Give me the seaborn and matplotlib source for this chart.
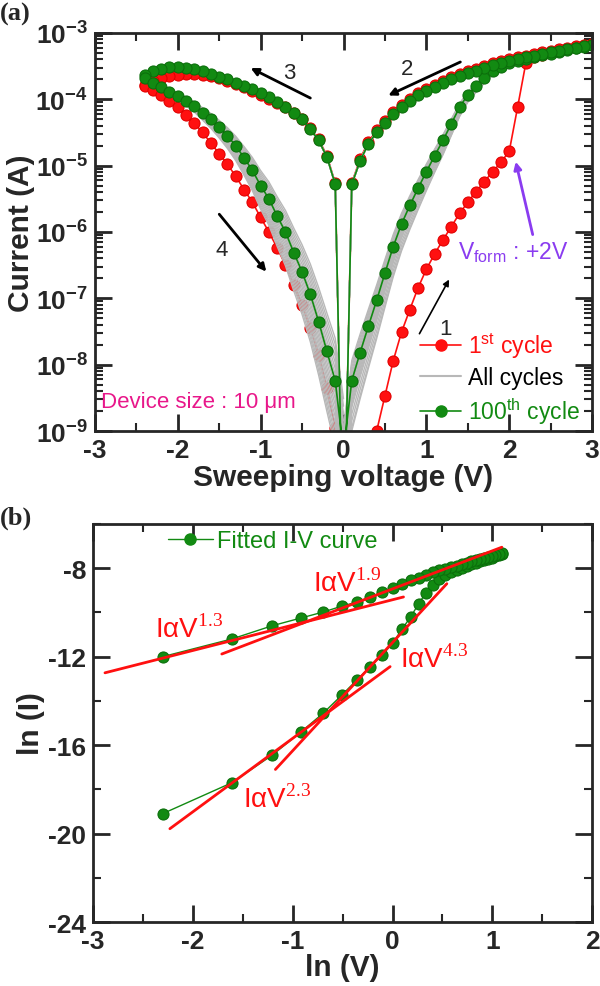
import numpy as np
import pandas as pd
import matplotlib
matplotlib.use("Agg")
import matplotlib.pyplot as plt
import seaborn as sns
from matplotlib.lines import Line2D
from matplotlib.ticker import LogLocator, MultipleLocator, NullFormatter

sns.set_style("ticks")
plt.rcParams['font.family'] = ['Liberation Sans', 'DejaVu Sans']
plt.rcParams['mathtext.fontset'] = 'custom'
plt.rcParams['mathtext.rm'] = 'Liberation Serif'
plt.rcParams['mathtext.sf'] = 'Liberation Sans'
plt.rcParams['mathtext.bf'] = 'Liberation Sans:bold'

# ---------------- (a) data: log10(I) ----------------
v_pos = [0.0, 0.1, 0.2, 0.3, 0.4, 0.5, 0.6, 0.7, 0.8, 0.9, 1.0, 1.1, 1.2, 1.3, 1.4, 1.5,
         1.6, 1.7, 1.8, 1.9, 2.0, 2.1, 2.2, 2.3, 2.4, 2.5, 2.6, 2.7, 2.8, 2.9, 3.0]
v_neg = [0.0, -0.1, -0.2, -0.3, -0.4, -0.5, -0.6, -0.7, -0.8, -0.9, -1.0, -1.1, -1.2,
         -1.3, -1.4, -1.5, -1.6, -1.7, -1.8, -1.9, -2.0, -2.1, -2.2, -2.3, -2.4]
v_form = [0.3, 0.4, 0.5, 0.6, 0.7, 0.8, 0.9, 1.0, 1.1, 1.2, 1.3, 1.4, 1.5, 1.6,
          1.7, 1.8, 1.9, 2.0, 2.1, 2.2, 2.3, 2.4, 2.5, 2.6, 2.7, 2.8, 2.9, 3.0]

# 100th cycle
g_set = [-9.3, -8.24, -7.82, -7.42, -7.03, -6.62, -6.22, -5.88, -5.60, -5.34, -5.09,
         -4.85, -4.62, -4.37, -4.12, -3.93, -3.80, -3.68, -3.58, -3.51, -3.46, -3.42,
         -3.39, -3.36, -3.33, -3.31, -3.28, -3.26, -3.23, -3.21, -3.18]
g_lrs_pos = [-11.0, -5.28, -4.93, -4.67, -4.50, -4.35, -4.22, -4.11, -4.02, -3.94, -3.87,
             -3.81, -3.75, -3.70, -3.65, -3.61, -3.57, -3.53, -3.49, -3.46, -3.43, -3.40,
             -3.37, -3.34, -3.32, -3.29, -3.27, -3.24, -3.22, -3.20, -3.18]
g_lrs_neg = [-11.0, -5.28, -4.87, -4.62, -4.45, -4.30, -4.20, -4.11, -4.04, -3.97, -3.91,
             -3.85, -3.80, -3.75, -3.70, -3.66, -3.62, -3.58, -3.55, -3.53, -3.52, -3.52,
             -3.54, -3.58, -3.64]
g_hrs_neg = [-9.3, -8.24, -7.80, -7.35, -6.94, -6.60, -6.31, -6.00, -5.76, -5.50, -5.30,
             -5.07, -4.88, -4.70, -4.55, -4.42, -4.30, -4.20, -4.10, -4.02, -3.95, -3.89,
             -3.82, -3.76, -3.68]

# 1st cycle
r_form = [-9.5, -9.0, -8.47, -7.94, -7.51, -7.17, -6.84, -6.56, -6.33, -6.12, -5.92,
          -5.72, -5.55, -5.39, -5.24, -5.09, -4.95, -4.78, -4.12, -3.45, -3.36, -3.33,
          -3.30, -3.27, -3.24, -3.21, -3.19, -3.16]
r_lrs_pos = [-11.0, -5.26, -4.90, -4.64, -4.47, -4.32, -4.19, -4.08, -3.99, -3.91, -3.84,
             -3.78, -3.72, -3.67, -3.62, -3.58, -3.54, -3.50, -3.46, -3.43, -3.40, -3.37,
             -3.34, -3.32, -3.29, -3.27, -3.24, -3.22, -3.20, -3.18, -3.16]
r_lrs_neg = [-11.0, -5.26, -4.85, -4.60, -4.44, -4.30, -4.20, -4.12, -4.05, -3.99, -3.93,
             -3.87, -3.82, -3.77, -3.72, -3.68, -3.65, -3.63, -3.62, -3.62, -3.63, -3.65,
             -3.68, -3.72, -3.78]
r_hrs_neg = [-11.0, -8.95, -8.35, -7.85, -7.45, -7.10, -6.80, -6.50, -6.24, -6.00, -5.78,
             -5.55, -5.36, -5.16, -4.98, -4.82, -4.66, -4.50, -4.36, -4.24, -4.12, -4.02,
             -3.93, -3.86, -3.80]

# spread of the other cycles around the 100th one (HRS branches)
gray_k_left = [0.86, 0.88, 0.90, 0.92, 0.94, 0.96, 0.98, 1.00, 1.02, 1.04, 1.06, 1.08,
               1.10, 1.12, 1.14, 1.16, 1.18, 1.20, 1.22]
gray_k_right = [0.94, 0.95, 0.96, 0.97, 0.98, 0.99, 1.00, 1.01, 1.02, 1.03, 1.04, 1.05,
                1.06, 1.07, 1.08, 1.10, 1.12, 1.14, 1.15]

# ---------------- (b) data: ln(I) vs V ----------------
v_fit = [0.1, 0.2, 0.3, 0.4, 0.5, 0.6, 0.7, 0.8, 0.9, 1.0, 1.1, 1.2, 1.3, 1.4, 1.5,
         1.6, 1.7, 1.8, 1.9, 2.0, 2.1, 2.2, 2.3, 2.4, 2.5, 2.6, 2.7, 2.8, 2.9, 3.0]
lnI_hrs = [-19.1, -17.7, -16.45, -15.4, -14.55, -13.75, -13.05, -12.45, -11.93, -11.4,
           -10.75, -10.2, -9.6, -9.1, -8.75, -8.5, -8.32, -8.18, -8.06, -7.97, -7.89,
           -7.82, -7.75, -7.69, -7.63, -7.57, -7.52, -7.47, -7.42, -7.37]
lnI_lrs = [-12.0, -11.2, -10.6, -10.25, -9.98, -9.72, -9.53, -9.31, -9.08, -8.88, -8.70,
           -8.55, -8.42, -8.30, -8.19, -8.10, -8.02, -7.95, -7.88, -7.81, -7.75, -7.69,
           -7.63, -7.58, -7.53, -7.48, -7.44, -7.40, -7.36, -7.33]

fit_names = ["1.3", "1.9", "2.3", "4.3"]
fit_lnV = [(-2.88, 0.11), (-1.71, 1.095), (-2.23, -0.024), (-1.173, 0.544)]
fit_lnI = [(-12.73, -9.30), (-11.88, -7.05), (-19.78, -12.45), (-17.1, -8.70)]
fit_label_pos = [(-2.38, -11.1), (-0.80, -9.0), (-1.50, -18.8), (0.07, -12.45)]


def full_loop(up_v, up, lrs_p, lrs_n, hrs_n):
    v = list(up_v) + v_pos[::-1] + v_neg + v_neg[::-1]
    y = list(up) + list(lrs_p)[::-1] + list(lrs_n) + list(hrs_n)[::-1]
    return np.array(v), np.array(y)


fig = plt.figure(figsize=(6, 9.87), dpi=100)
ax = fig.add_axes([0.158, 0.5623, 0.829, 0.4033])
ax2 = fig.add_axes([0.155, 0.0648, 0.832, 0.4033])

RED = '#ff1010'
GREEN = '#128a12'
GRAY = '#b8b8b8'

# 1st cycle
rv, ry = full_loop(v_form, r_form, r_lrs_pos, r_lrs_neg, r_hrs_neg)
sns.lineplot(x=rv, y=10 ** ry, sort=False, estimator=None, ax=ax, color=RED, lw=1.2,
             marker='o', markersize=8, markerfacecolor=RED, markeredgecolor='#e00000')

# all cycles
rows = []
for c, (kl, kr) in enumerate(zip(gray_k_left, gray_k_right)):
    s = np.array(g_set)
    h = np.array(g_hrs_neg)
    gs = s[-1] + (s - s[-1]) * kr
    gh = h[-1] + (h - h[-1]) * kl
    v, y = full_loop(v_pos, gs, g_lrs_pos, g_lrs_neg, gh)
    rows.append(pd.DataFrame({'V': v, 'I': 10 ** y, 'cycle': c}))
gray_df = pd.concat(rows)
sns.lineplot(data=gray_df, x='V', y='I', units='cycle', estimator=None, sort=False,
             ax=ax, color=GRAY, lw=1.0)

# 100th cycle
gv, gy = full_loop(v_pos, g_set, g_lrs_pos, g_lrs_neg, g_hrs_neg)
sns.lineplot(x=gv, y=10 ** gy, sort=False, estimator=None, ax=ax, color=GREEN, lw=1.2,
             marker='o', markersize=8, markerfacecolor=GREEN, markeredgecolor='#0b6e0b')

ax.set_yscale('log')
ax.set_xlim(-3, 3)
ax.set_ylim(1e-9, 1e-3)
ax.set_xticks([-3, -2, -1, 0, 1, 2, 3], ['-3', '-2', '-1', '0', '1', '2', '3'],
              fontsize=19, fontweight='bold')
ax.xaxis.set_minor_locator(MultipleLocator(0.5))
yt = [1e-9, 1e-8, 1e-7, 1e-6, 1e-5, 1e-4, 1e-3]
ax.set_yticks(yt, [r'$\mathbf{10^{%d}}$' % e for e in range(-9, -2)], fontsize=19)
ax.yaxis.set_minor_locator(LogLocator(base=10, subs=np.arange(2, 10), numticks=20))
ax.yaxis.set_minor_formatter(NullFormatter())
ax.set_xlabel('Sweeping voltage (V)', fontsize=21.5, fontweight='bold', labelpad=1)
ax.set_ylabel('Current (A)', fontsize=21.5, fontweight='bold', labelpad=0)

arrow_k = dict(arrowstyle='-|>', color='k', lw=2, mutation_scale=11)
ax.annotate('', xy=(-1.15, 10 ** -3.51), xytext=(-0.37, 10 ** -4.0), arrowprops=arrow_k)
ax.annotate('', xy=(0.51, 10 ** -3.96), xytext=(1.44, 10 ** -3.42), arrowprops=arrow_k)
ax.annotate('', xy=(-0.91, 10 ** -6.63), xytext=(-1.52, 10 ** -5.70), arrowprops=arrow_k)
ax.annotate('', xy=(1.29, 10 ** -6.68), xytext=(0.90, 10 ** -7.57),
            arrowprops=dict(arrowstyle='-|>', color='k', lw=1.2, mutation_scale=9))
ax.annotate('', xy=(2.07, 10 ** -4.90), xytext=(2.29, 10 ** -6.08),
            arrowprops=dict(arrowstyle='-|>', color='#8a3cf0', lw=2, mutation_scale=11))
for t, x, y in [('3', -0.65, -3.59), ('2', 0.77, -3.54), ('4', -1.47, -6.26), ('1', 1.23, -7.46)]:
    ax.text(x, 10 ** y, t, fontsize=16, ha='center', va='center')
ax.text(1.38, 10 ** -6.30, r'V$_{\mathsf{form}}$ : +2V', fontsize=16.5, color='#8a3cf0',
        va='center')
ax.text(-2.92, 10 ** -8.55, 'Device size : 10 μm', fontsize=16, color='#e8178a',
        va='center')

handles = [Line2D([], [], color=RED, lw=1.2, marker='o', markersize=8, markerfacecolor=RED),
           Line2D([], [], color=GRAY, lw=1.5),
           Line2D([], [], color=GREEN, lw=1.2, marker='o', markersize=8, markerfacecolor=GREEN)]
ax.legend(handles, [r'1$^{\mathsf{st}}$ cycle', 'All cycles', r'100$^{\mathsf{th}}$ cycle'],
          loc='lower right', bbox_to_anchor=(0.985, 0.0), frameon=False, fontsize=16.5,
          labelcolor=[RED, 'k', GREEN], handlelength=1.8, handletextpad=0.3,
          labelspacing=0.28, borderaxespad=0.1, borderpad=0.1)

# ---------------- (b) ----------------
lnV = np.log(np.array(v_fit))
bx = np.concatenate([lnV, lnV[::-1]])
by = np.concatenate([lnI_hrs, lnI_lrs[::-1]])
sns.lineplot(x=bx, y=by, sort=False, estimator=None, ax=ax2, color=GREEN, lw=1,
             marker='o', markersize=8, markerfacecolor=GREEN, markeredgecolor='#0b6e0b')
for name, xs, ys, (tx, ty) in zip(fit_names, fit_lnV, fit_lnI, fit_label_pos):
    ax2.plot(xs, ys, color=RED, lw=2)
    ax2.text(tx, ty, r'IαV$^{\mathrm{%s}}$' % name, color=RED, fontsize=20,
             va='baseline')

ax2.set_xlim(-3, 2)
ax2.set_ylim(-24, -6)
ax2.set_xticks([-3, -2, -1, 0, 1, 2], ['-3', '-2', '-1', '0', '1', '2'],
               fontsize=19, fontweight='bold')
ax2.xaxis.set_minor_locator(MultipleLocator(0.5))
ax2.set_yticks([-24, -20, -16, -12, -8], ['-24', '-20', '-16', '-12', '-8'],
               fontsize=19, fontweight='bold')
ax2.yaxis.set_minor_locator(MultipleLocator(2))
ax2.set_xlabel('ln (V)', fontsize=21.5, fontweight='bold', labelpad=0)
ax2.set_ylabel('ln (I)', fontsize=21.5, fontweight='bold', labelpad=2)
ax2.legend([Line2D([], [], color=GREEN, lw=1, marker='o', markersize=8,
                   markerfacecolor=GREEN)], ['Fitted I-V curve'],
           loc='upper left', bbox_to_anchor=(0.15, 0.985), frameon=False, fontsize=17,
           labelcolor=[GREEN], handlelength=1.9, handletextpad=0.2, borderpad=0,
           borderaxespad=0)

for a in (ax, ax2):
    for s in a.spines.values():
        s.set_linewidth(2)
        s.set_visible(True)
    a.tick_params(which='both', direction='in', top=True, right=True)
    a.tick_params(which='major', length=12, width=2, pad=5)
    a.tick_params(which='minor', length=6, width=1.5)

fig.text(0.0, 0.997, '(a)', fontsize=19, fontweight='bold', family='Liberation Serif',
         va='top')
fig.text(0.0, 0.487, '(b)', fontsize=19, fontweight='bold', family='Liberation Serif',
         va='top')

fig.savefig('out.png', dpi=100)
